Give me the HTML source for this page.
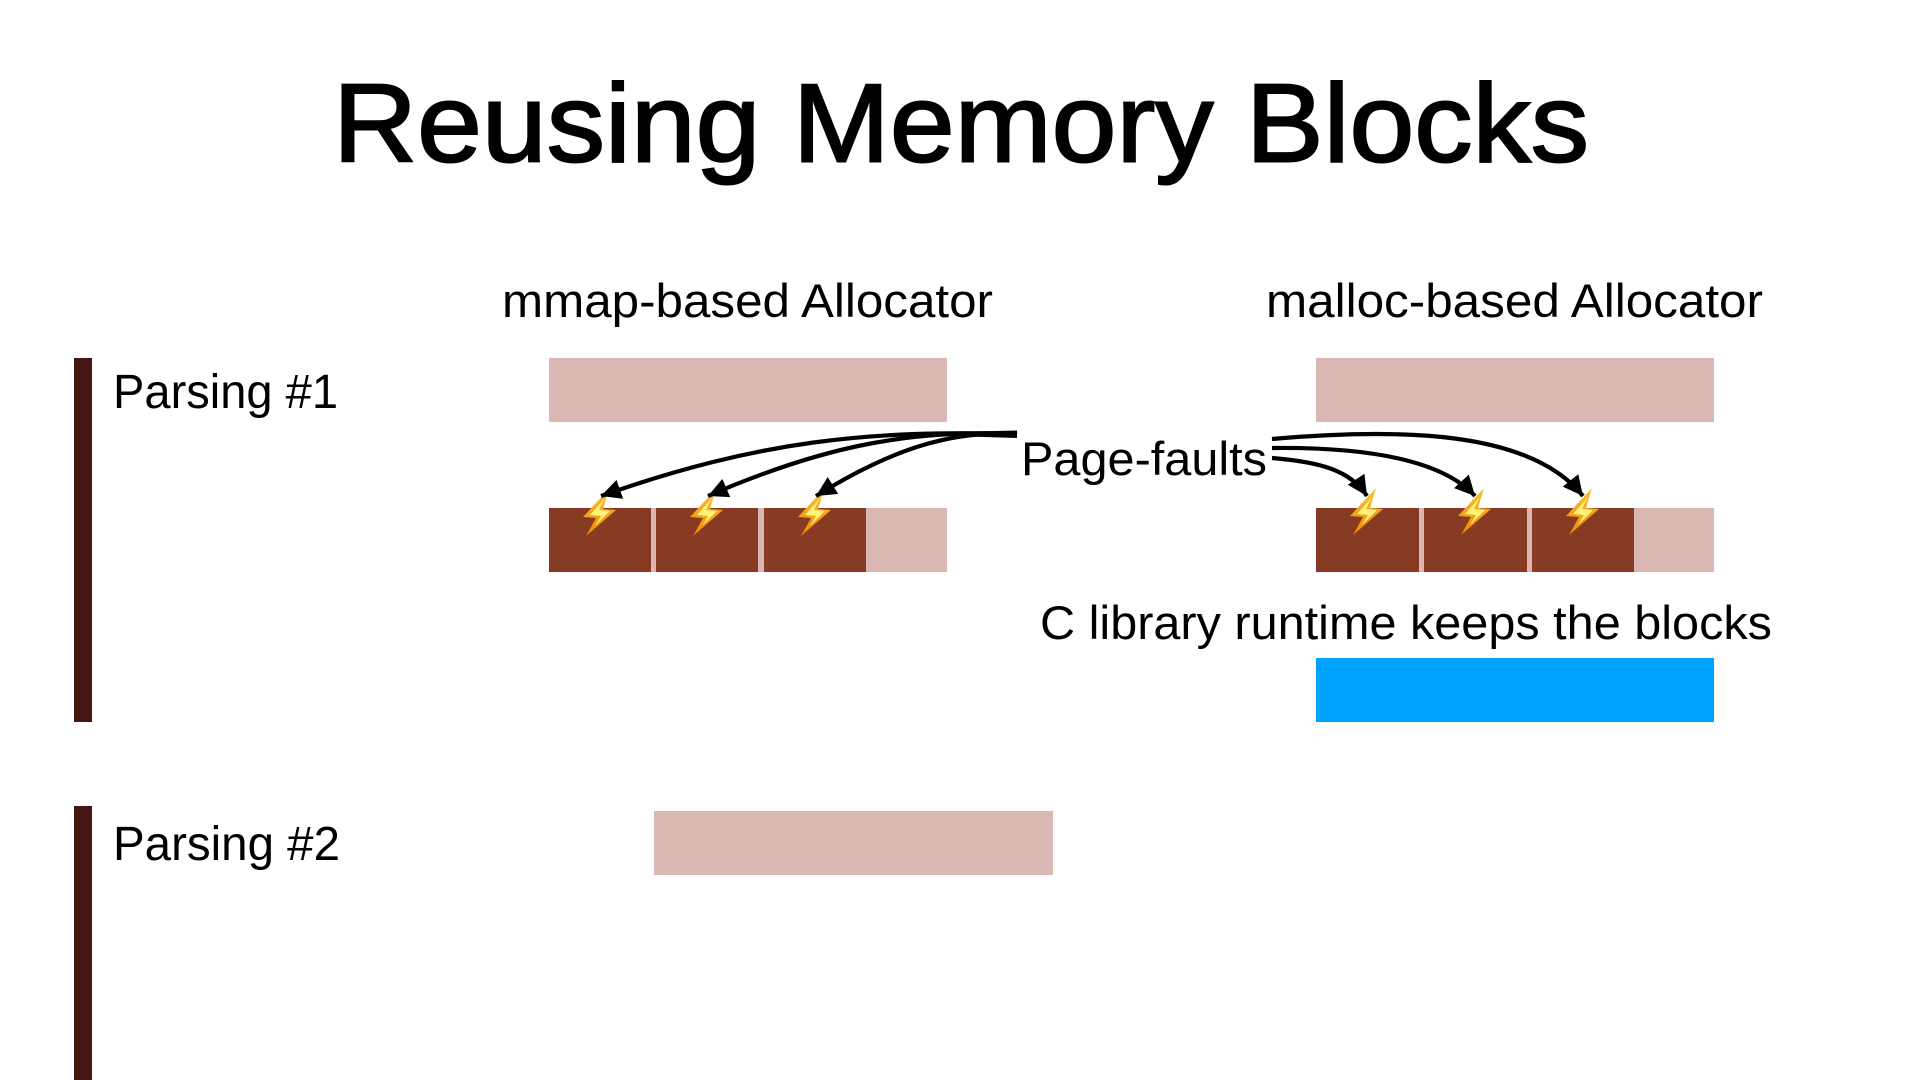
<!DOCTYPE html>
<html lang="en">
<head>
<meta charset="utf-8">
<title>Reusing Memory Blocks</title>
<style>
html,body{margin:0;padding:0;background:#fff;width:1920px;height:1080px;overflow:hidden}
svg{display:block}
text{font-family:"Liberation Sans",sans-serif;fill:#000}
</style>
</head>
<body>
<svg width="1920" height="1080" viewBox="0 0 1920 1080" xmlns="http://www.w3.org/2000/svg">
<defs>
<marker id="ah" markerUnits="userSpaceOnUse" markerWidth="22" markerHeight="22" refX="20" refY="10" orient="auto">
<path d="M0 0 L20 10 L0 20 Z" fill="#000"/>
</marker>
<linearGradient id="bg" x1="0" y1="0" x2="0" y2="1">
<stop offset="0" stop-color="#f9c23c"/><stop offset="1" stop-color="#f08a00"/>
</linearGradient>
<g id="bolt">
<polygon points="26,0 0,28 13,29 3,47 33,21 20,20" fill="url(#bg)"/>
<polygon points="22,9 7,26 18,27 12,37 27,22 16,21" fill="#fff27a"/>
</g>
</defs>
<rect width="1920" height="1080" fill="#fff"/>

<text x="333" y="161.500" font-size="111" textLength="1256" lengthAdjust="spacingAndGlyphs" stroke="#000" stroke-width="2">Reusing Memory Blocks</text>

<text x="502" y="317" font-size="47" textLength="491" lengthAdjust="spacingAndGlyphs">mmap-based Allocator</text>
<text x="1266" y="317" font-size="47" textLength="497" lengthAdjust="spacingAndGlyphs">malloc-based Allocator</text>

<rect x="74" y="358" width="18" height="364" fill="#451712"/>
<rect x="74" y="806" width="18" height="274" fill="#451712"/>
<text x="113" y="408" font-size="48" textLength="225" lengthAdjust="spacingAndGlyphs">Parsing #1</text>
<text x="113" y="860" font-size="48" textLength="227" lengthAdjust="spacingAndGlyphs">Parsing #2</text>

<rect x="549" y="358" width="398" height="64" fill="#dab7b3"/>
<rect x="549" y="508" width="398" height="64" fill="#dab7b3"/>
<rect x="549" y="508" width="102" height="64" fill="#863b22"/>
<rect x="656" y="508" width="102" height="64" fill="#863b22"/>
<rect x="764" y="508" width="102" height="64" fill="#863b22"/>

<rect x="1316" y="358" width="398" height="64" fill="#dab7b3"/>
<rect x="1316" y="508" width="398" height="64" fill="#dab7b3"/>
<rect x="1316" y="508" width="103" height="64" fill="#863b22"/>
<rect x="1424" y="508" width="103" height="64" fill="#863b22"/>
<rect x="1532" y="508" width="102" height="64" fill="#863b22"/>

<rect x="1316" y="658" width="398" height="64" fill="#00a2ff"/>
<rect x="654" y="811" width="399" height="64" fill="#dab7b3"/>

<text x="1021" y="475" font-size="47" textLength="246" lengthAdjust="spacingAndGlyphs">Page-faults</text>
<text x="1040" y="639" font-size="47" textLength="732" lengthAdjust="spacingAndGlyphs">C library runtime keeps the blocks</text>

<use href="#bolt" x="583" y="489"/>
<use href="#bolt" x="690" y="489"/>
<use href="#bolt" x="798" y="489"/>
<use href="#bolt" x="1350" y="488"/>
<use href="#bolt" x="1458" y="488"/>
<use href="#bolt" x="1566" y="488"/>

<g fill="none" stroke="#000" stroke-width="4.2" marker-end="url(#ah)">
<path d="M1017 434 C870 430 760 440 601 496"/>
<path d="M1017 434 C915 430 830 443 708 496"/>
<path d="M1017 434 C950 430 890 450 816 496"/>
<path d="M1272 439 C1400 428 1530 430 1583 496"/>
<path d="M1272 448 C1360 447 1440 458 1475 496"/>
<path d="M1272 458 C1320 462 1350 470 1367 496"/>
</g>
<polygon points="950,432 1017,430.500 1017,438 950,436" fill="#000"/>
</svg>
</body>
</html>
